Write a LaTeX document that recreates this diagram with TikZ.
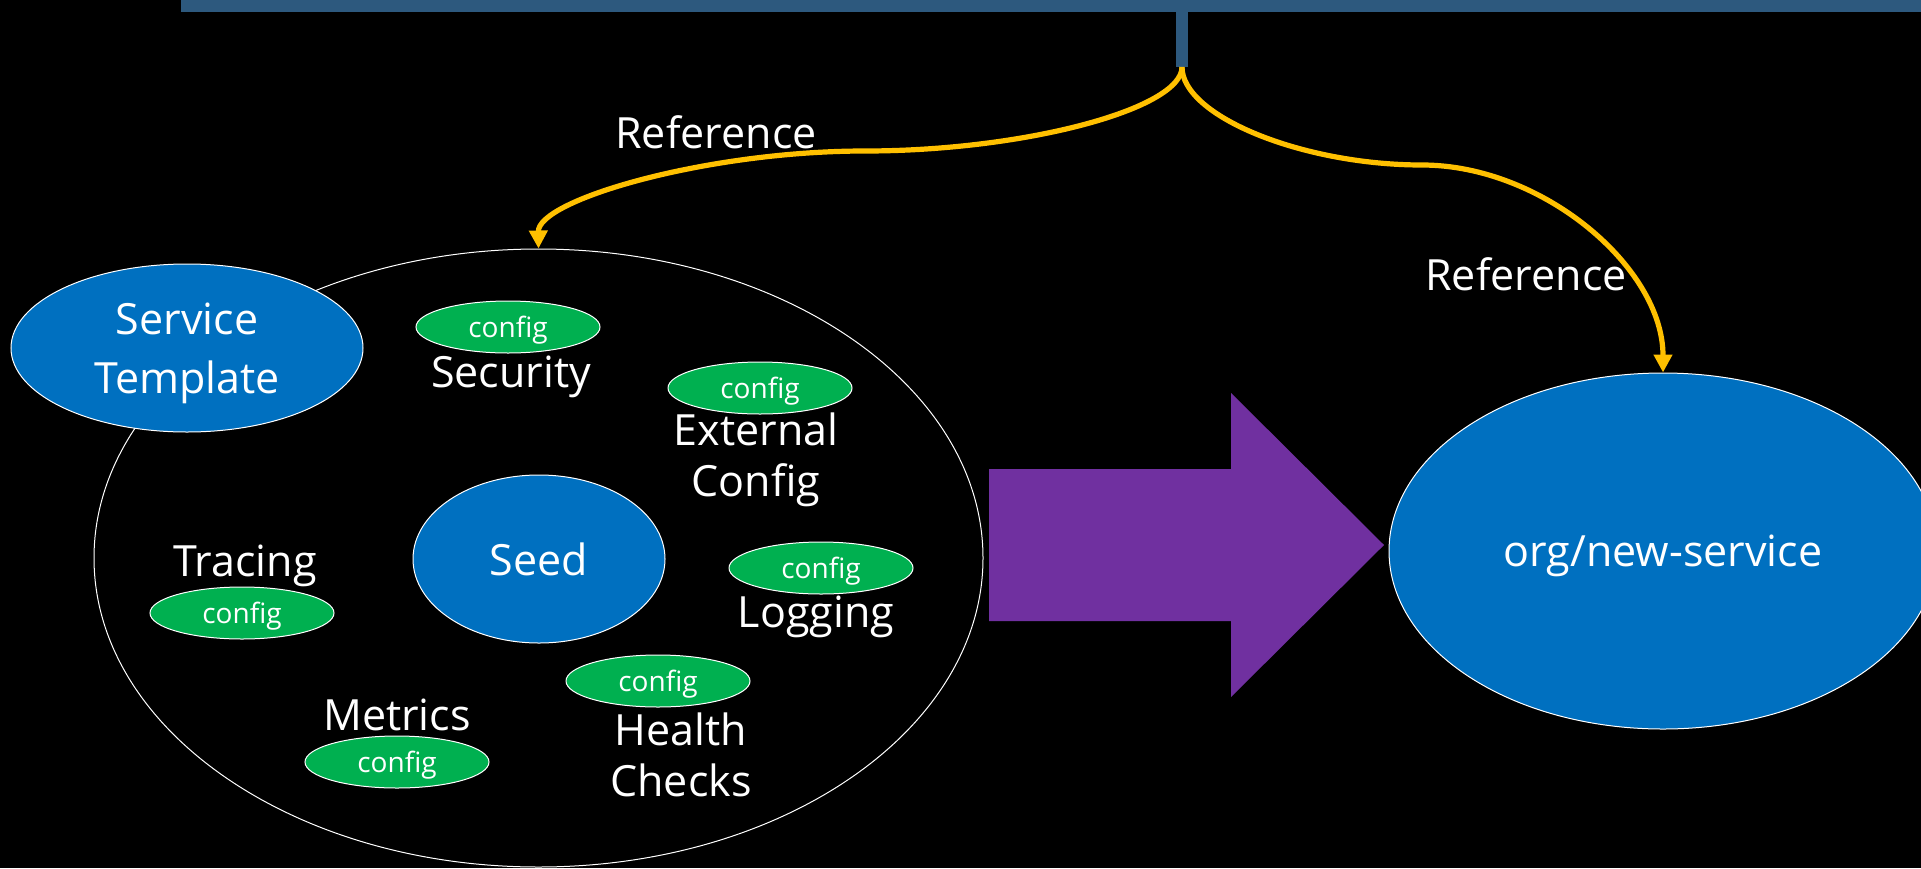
\documentclass[tikz,border=0pt]{standalone}
\usepackage{fontspec}
\setmainfont{Open Sans}
\usetikzlibrary{shapes.geometric,arrows.meta}
\definecolor{barblue}{RGB}{45,89,126}
\definecolor{nodeblue}{RGB}{0,112,192}
\definecolor{cfggreen}{RGB}{0,176,80}
\definecolor{refgold}{RGB}{255,192,0}
\definecolor{arrowpurple}{RGB}{112,48,160}
\begin{document}
\begin{tikzpicture}[x=0.5pt,y=-0.5pt,
  bigtxt/.style={text=white,font=\fontsize{21.5}{25.5}\selectfont},
  blueoval/.style={ellipse,fill=nodeblue,draw=white,line width=0.5pt,inner sep=0pt,bigtxt},
  cfgoval/.style={ellipse,fill=cfggreen,draw=white,line width=0.5pt,inner sep=0pt,
    minimum width=92pt,minimum height=26pt,text=white,
    font=\fontsize{14}{16}\selectfont,text depth=0pt},
  lbl/.style={bigtxt,anchor=base,align=center,inner sep=0pt},
  refline/.style={draw=refgold,line width=2.6pt,-{Triangle[length=9pt,width=9pt]}}
]
% background and frame
\fill[black] (0,0) rectangle (1921,868);
\useasboundingbox (0,0) rectangle (1921,868);

% top bar with its stem
\fill[barblue] (181,0) rectangle (1921,12);
\fill[barblue] (1176,12) rectangle (1188,67);
\coordinate (stem) at (1182,67);

% seed ring with its parts
\node[ellipse,draw=white,line width=0.5pt,minimum width=444.5pt,minimum height=309pt,inner sep=0pt] (ring) at (538.5,558) {};
\node[blueoval,minimum width=176pt,minimum height=84pt,align=center,text depth=0pt,
      font=\fontsize{21.5}{29.5}\selectfont] (tmpl) at (187,348) {Service\\Template};
\node[blueoval,minimum width=126pt,minimum height=84pt] (seed) at (539,559) {Seed};

\node[cfgoval] (cfgsec) at (508,327) {config};
\node[cfgoval] (cfgext) at (760,388) {config};
\node[cfgoval] (cfglog) at (821,568) {config};
\node[cfgoval] (cfgtrc) at (242,613) {config};
\node[cfgoval] (cfghlt) at (658,681) {config};
\node[cfgoval] (cfgmet) at (397,762) {config};

% labels sit on the baseline of their last line
\node[lbl] (secl) at (511,387) {Security};
\node[lbl] (extl) at (756,496) {External\\Config};
\node[lbl] (trcl) at (245,576) {Tracing};
\node[lbl] (logl) at (816,627) {Logging};
\node[lbl] (metl) at (397,730) {Metrics};
\node[lbl] (hltl) at (681,796) {Health\\Checks};

% big arrow and the generated service
\fill[arrowpurple] (989,469) -- (1231,469) -- (1231,393) -- (1384,545)
  -- (1231,697) -- (1231,621) -- (989,621) -- cycle;
\node[blueoval,minimum width=274pt,minimum height=178pt,text depth=0pt] (newsvc) at (1663,551) {org/new-service};

% reference connectors
\draw[refline] (stem) .. controls (1182,109) and (1024,151) .. (865,151)
  .. controls (706,151) and (538,200) .. (ring.north);
\draw[refline] (stem) .. controls (1182,116) and (1302,165) .. (1422,165)
  .. controls (1543,165) and (1663,268) .. (newsvc.north);
\node[lbl] (ref1) at (716,148) {Reference};
\node[lbl] (ref2) at (1526,290) {Reference};
\end{tikzpicture}
\end{document}
